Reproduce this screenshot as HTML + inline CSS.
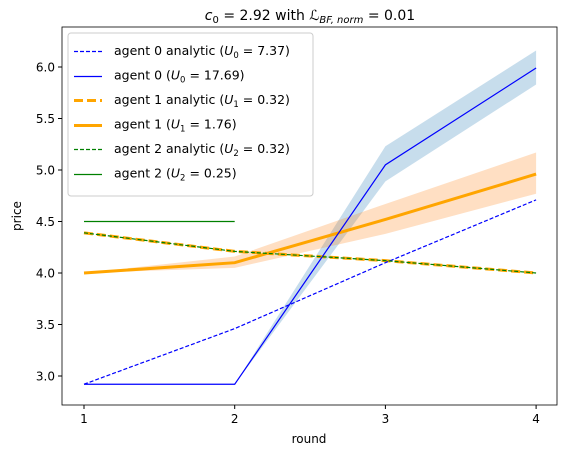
<!DOCTYPE html>
<html><head><meta charset="utf-8"><style>
body{margin:0;background:#fff;font-family:"DejaVu Sans","Liberation Sans",sans-serif;}
svg text{font-family:"DejaVu Sans","Liberation Sans",sans-serif;}
</style></head><body>
<svg id="chart" width="567" height="456" xmlns="http://www.w3.org/2000/svg">
<text x="310" y="20" font-size="14" text-anchor="middle"><tspan font-style="italic">c</tspan><tspan font-size="10" dy="3">0</tspan><tspan dy="-3"> = 2.92 with </tspan><tspan font-style="italic">ℒ</tspan><tspan font-size="10" dy="3" font-style="italic">BF, norm</tspan><tspan dy="-3"> = 0.01</tspan></text>
<g id="bands"></g><g id="lines"></g><g id="axes"></g>
<rect x="62" y="27" width="495" height="378" fill="none" stroke="#000" stroke-width="0.8"/>
<text x="309" y="443" font-size="12" text-anchor="middle">round</text>
<text transform="translate(21,216) rotate(-90)" font-size="12" text-anchor="middle">price</text>
<g id="legend"></g>
</svg>
<script>
const rounds=[1,2,3,4];
const a0analytic=[2.92,3.46,4.10,4.71];
const a0=[2.92,2.92,5.05,5.99];
const a0lo=[2.92,2.92,4.89,5.83];
const a0hi=[2.92,2.92,5.23,6.16];
const a1analytic=[4.39,4.21,4.12,4.00];
const a1=[4.00,4.10,4.52,4.96];
const a1lo=[4.00,4.05,4.38,4.77];
const a1hi=[4.00,4.16,4.67,5.17];
const a2analytic=[4.39,4.21,4.12,4.00];
const a2rounds=[1,2];
const a2=[4.50,4.50];
const yTicks=[3.0,3.5,4.0,4.5,5.0,5.5,6.0];
const xTicks=[1,2,3,4];
const legendLabels=[["agent 0 analytic (","U","0"," = 7.37)"],["agent 0 (","U","0"," = 17.69)"],["agent 1 analytic (","U","1"," = 0.32)"],["agent 1 (","U","1"," = 1.76)"],["agent 2 analytic (","U","2"," = 0.32)"],["agent 2 (","U","2"," = 0.25)"]];
const NS="http://www.w3.org/2000/svg";
const X=v=>84+(v-1)*150.7;
const Y=v=>376-(v-3)*103;
function mk(tag,attrs,parent){const e=document.createElementNS(NS,tag);for(const k in attrs)e.setAttribute(k,attrs[k]);document.getElementById(parent).appendChild(e);return e;}
function band(lo,hi,color,name){
 let d="M"+rounds.map((r,i)=>X(r)+","+Y(hi[i])).join("L")+"L"+rounds.map((r,i)=>X(r)+","+Y(lo[i])).reverse().join("L")+"Z";
 const p=mk("path",{d:d,fill:color,opacity:0.25},"bands");
 
 
}
band(a0lo,a0hi,"#1f77b4","agent0-band");
band(a1lo,a1hi,"#ff7f0e","agent1-band");
function line(xs,ys,color,w,dash,name){
 const attrs={points:xs.map((r,i)=>X(r)+","+Y(ys[i])).join(" "),fill:"none",stroke:color,"stroke-width":w};
 if(dash)attrs["stroke-dasharray"]=dash;
 const p=mk("polyline",attrs,"lines");
 
 
}
line(rounds,a1analytic,"#ffa500",3,"9,4","agent1-analytic-line");
line(rounds,a1,"#ffa500",3,null,"agent1-line");
line(rounds,a0analytic,"#0000ff",1.2,"4,2","agent0-analytic-line");
line(rounds,a0,"#0000ff",1.2,null,"agent0-line");
line(rounds,a2analytic,"#008000",1.2,"4,2","agent2-analytic-line");
line(a2rounds,a2,"#008000",1.3,null,"agent2-line");
yTicks.forEach(t=>{
 const l=mk("line",{x1:58,x2:62,y1:Y(t),y2:Y(t),stroke:"#000"},"axes");
 
 
 const tx=mk("text",{x:55,y:Y(t)+4.5,"font-size":12,"text-anchor":"end"},"axes");
 tx.textContent=t.toFixed(1);
 
 
});
xTicks.forEach(t=>{
 const l=mk("line",{x1:X(t),x2:X(t),y1:405,y2:409,stroke:"#000"},"axes");
 
 
 const tx=mk("text",{x:X(t),y:423,"font-size":12,"text-anchor":"middle"},"axes");
 tx.textContent=t;
 
 
});
const lg=mk("rect",{x:68,y:33,width:245,height:163,rx:3,fill:"#fff",stroke:"#ccc","fill-opacity":0.8},"legend");


const styles=[["#0000ff",1.3,"4,2"],["#0000ff",1.3,null],["#ffa500",3,"9,4"],["#ffa500",3,null],["#008000",1.3,"4,2"],["#008000",1.3,null]];
legendLabels.forEach((lab,i)=>{
 const y=55+i*24.5;
 const s=styles[i];
 const la={x1:74,x2:102,y1:Math.round(y-4)+0.5,y2:Math.round(y-4)+0.5,stroke:s[0],"stroke-width":s[1]};
 if(s[2])la["stroke-dasharray"]=s[2];
 const l=mk("line",la,"legend");
 
 
 const t=mk("text",{x:114,y:y,"font-size":12.5},"legend");
 t.innerHTML=lab[0]+'<tspan font-style="italic">'+lab[1]+'</tspan><tspan font-size="8.5" dy="3">'+lab[2]+'</tspan><tspan dy="-3">'+lab[3]+'</tspan>';
 
 
});
</script>
</body></html>
